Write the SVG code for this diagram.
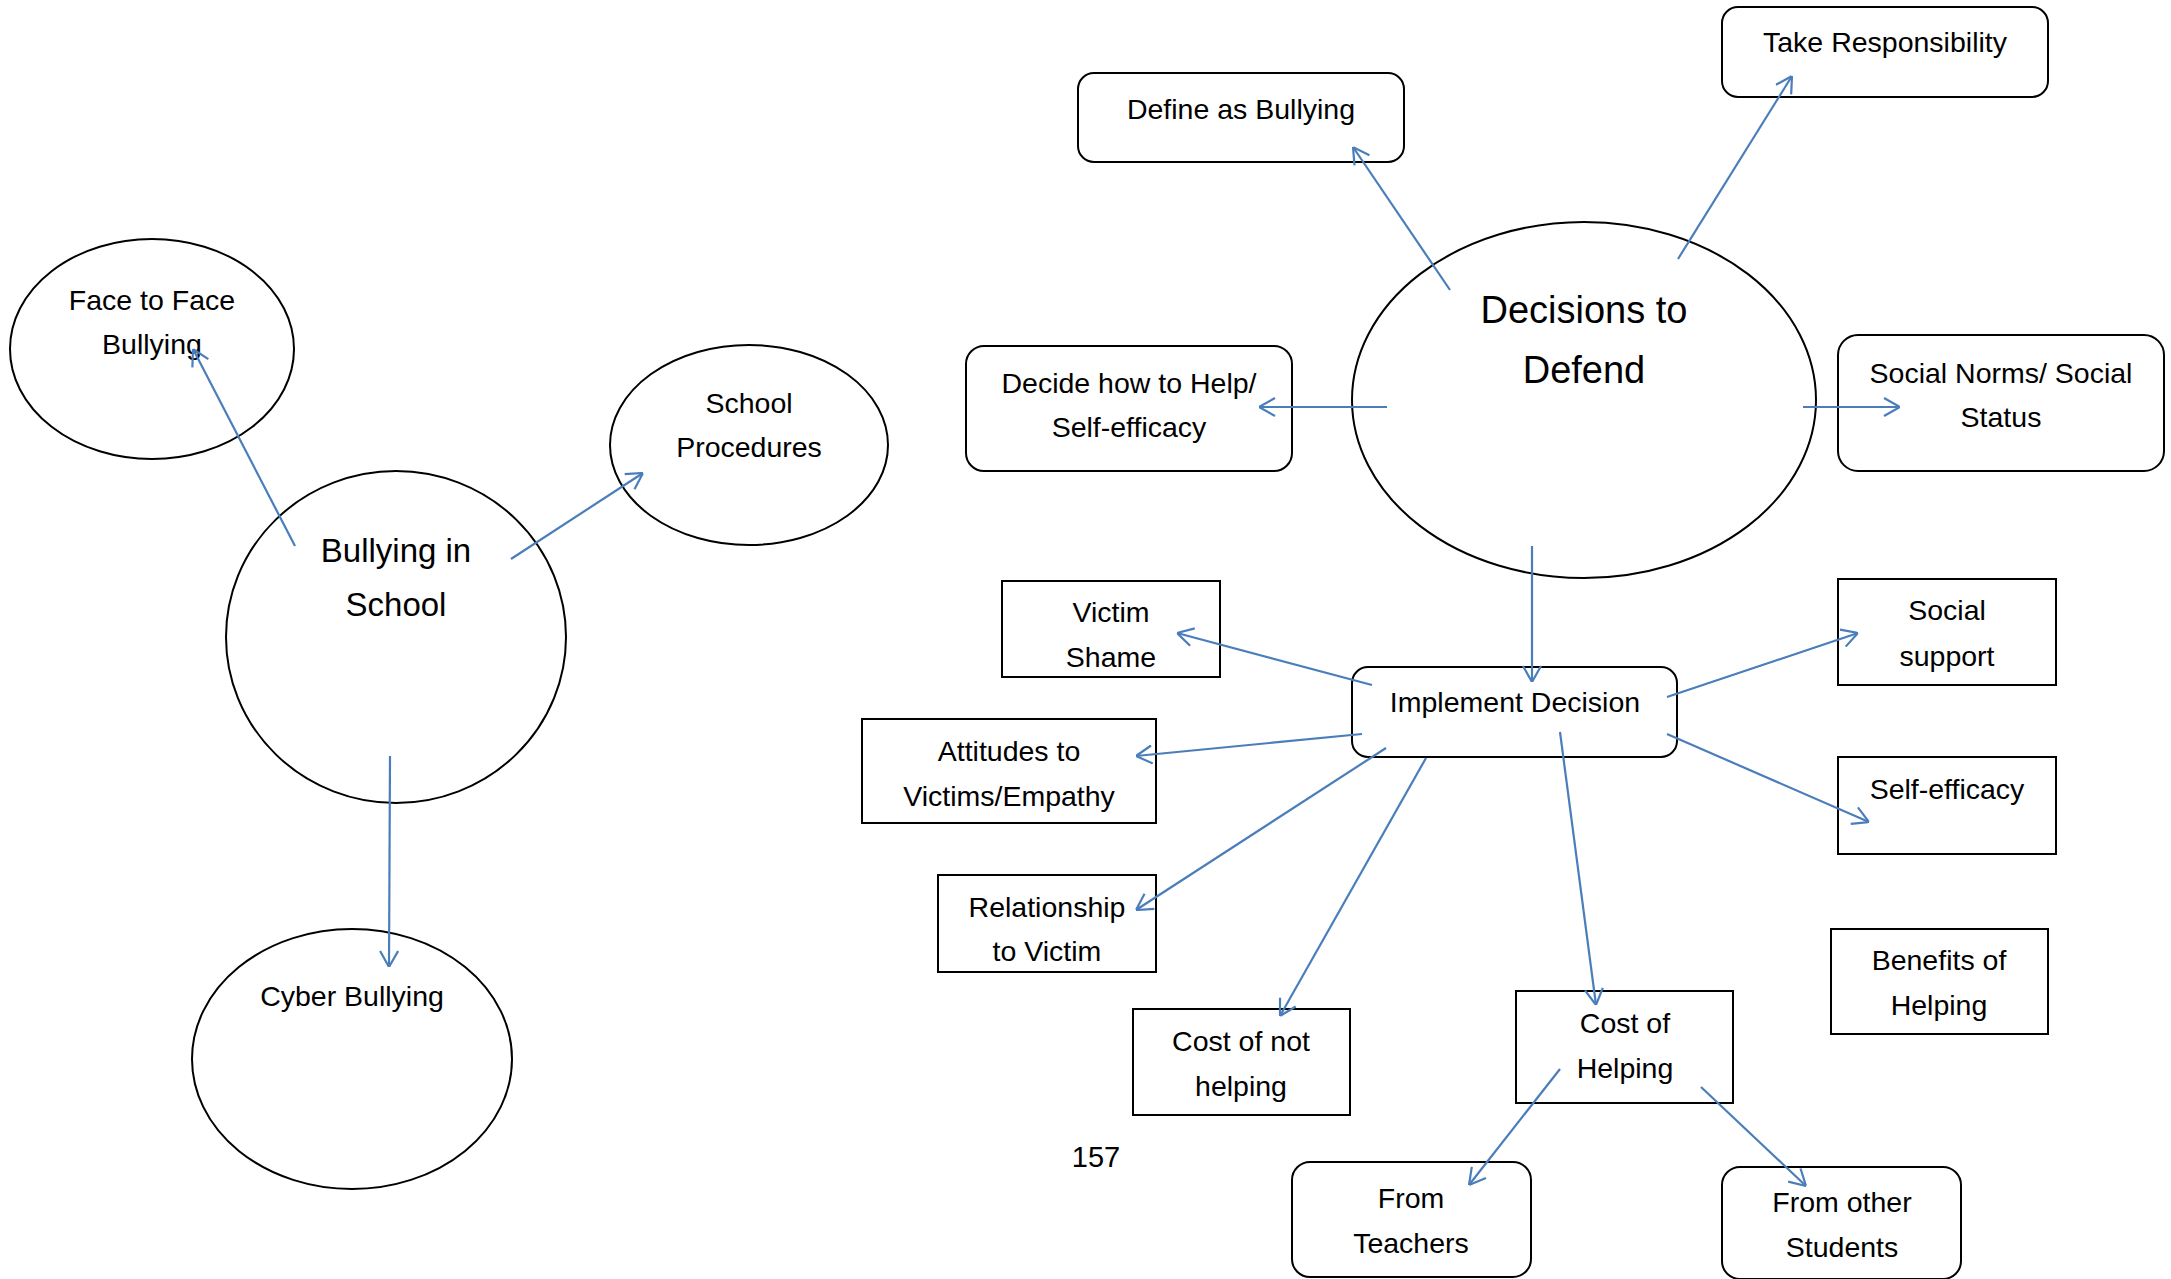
<svg xmlns="http://www.w3.org/2000/svg" width="2171" height="1279" viewBox="0 0 2171 1279">
  <style>
    .shape { fill: #ffffff; stroke: #000000; stroke-width: 2; }
    .label { font-family: "Liberation Sans", Arial, sans-serif; font-size: 28.5px; fill: #000000; text-anchor: middle; }
    .big { font-size: 33px; }
    .huge { font-size: 38px; }
    .link { fill: none; stroke: #4A7EBB; stroke-width: 2.2; marker-end: url(#arrow); }
  </style>
  <defs>
    <marker id="arrow" viewBox="0 0 20 20" refX="20" refY="10" markerWidth="20" markerHeight="20" markerUnits="userSpaceOnUse" orient="auto">
      <path d="M4,1 L20,10 L4,19" fill="none" stroke="#4A7EBB" stroke-width="2.2"/>
    </marker>
  </defs>
  <rect width="2171" height="1279" fill="#ffffff"/>

  <!-- left cluster -->
  <g id="face-to-face">
    <ellipse class="shape" cx="152" cy="349" rx="142" ry="110"/>
    <text class="label" x="152" y="310">Face to Face</text>
    <text class="label" x="152" y="354">Bullying</text>
  </g>
  <g id="school-procedures">
    <ellipse class="shape" cx="749" cy="445" rx="139" ry="100"/>
    <text class="label" x="749" y="413">School</text>
    <text class="label" x="749" y="457">Procedures</text>
  </g>
  <g id="bullying-in-school">
    <ellipse class="shape" cx="396" cy="637" rx="170" ry="166"/>
    <text class="label big" x="396" y="562">Bullying in</text>
    <text class="label big" x="396" y="616">School</text>
  </g>
  <g id="cyber-bullying">
    <ellipse class="shape" cx="352" cy="1059" rx="160" ry="130"/>
    <text class="label" x="352" y="1006">Cyber Bullying</text>
  </g>

  <!-- right cluster -->
  <g id="define-as-bullying">
    <rect class="shape" x="1078" y="73" width="326" height="89" rx="16"/>
    <text class="label" x="1241" y="119">Define as Bullying</text>
  </g>
  <g id="take-responsibility">
    <rect class="shape" x="1722" y="7" width="326" height="90" rx="16"/>
    <text class="label" x="1885" y="52">Take Responsibility</text>
  </g>
  <g id="decisions-to-defend">
    <ellipse class="shape" cx="1584" cy="400" rx="232" ry="178"/>
    <text class="label huge" x="1584" y="323">Decisions to</text>
    <text class="label huge" x="1584" y="383">Defend</text>
  </g>
  <g id="decide-how-to-help">
    <rect class="shape" x="966" y="346" width="326" height="125" rx="18"/>
    <text class="label" x="1129" y="393">Decide how to Help/</text>
    <text class="label" x="1129" y="437">Self-efficacy</text>
  </g>
  <g id="social-norms">
    <rect class="shape" x="1838" y="335" width="326" height="136" rx="20"/>
    <text class="label" x="2001" y="383">Social Norms/ Social</text>
    <text class="label" x="2001" y="427">Status</text>
  </g>
  <g id="victim-shame">
    <rect class="shape" x="1002" y="581" width="218" height="96"/>
    <text class="label" x="1111" y="622">Victim</text>
    <text class="label" x="1111" y="667">Shame</text>
  </g>
  <g id="implement-decision">
    <rect class="shape" x="1352" y="667" width="325" height="90" rx="16"/>
    <text class="label" x="1515" y="712">Implement Decision</text>
  </g>
  <g id="social-support">
    <rect class="shape" x="1838" y="579" width="218" height="106"/>
    <text class="label" x="1947" y="620">Social</text>
    <text class="label" x="1947" y="666">support</text>
  </g>
  <g id="attitudes-to-victims">
    <rect class="shape" x="862" y="719" width="294" height="104"/>
    <text class="label" x="1009" y="761">Attitudes to</text>
    <text class="label" x="1009" y="806">Victims/Empathy</text>
  </g>
  <g id="self-efficacy">
    <rect class="shape" x="1838" y="757" width="218" height="97"/>
    <text class="label" x="1947" y="799">Self-efficacy</text>
  </g>
  <g id="relationship-to-victim">
    <rect class="shape" x="938" y="875" width="218" height="97"/>
    <text class="label" x="1047" y="917">Relationship</text>
    <text class="label" x="1047" y="961">to Victim</text>
  </g>
  <g id="benefits-of-helping">
    <rect class="shape" x="1831" y="929" width="217" height="105"/>
    <text class="label" x="1939" y="970">Benefits of</text>
    <text class="label" x="1939" y="1015">Helping</text>
  </g>
  <g id="cost-of-not-helping">
    <rect class="shape" x="1133" y="1009" width="217" height="106"/>
    <text class="label" x="1241" y="1051">Cost of not</text>
    <text class="label" x="1241" y="1096">helping</text>
  </g>
  <g id="cost-of-helping">
    <rect class="shape" x="1516" y="991" width="217" height="112"/>
    <text class="label" x="1625" y="1033">Cost of</text>
    <text class="label" x="1625" y="1078">Helping</text>
  </g>
  <g id="from-teachers">
    <rect class="shape" x="1292" y="1162" width="239" height="115" rx="18"/>
    <text class="label" x="1411" y="1208">From</text>
    <text class="label" x="1411" y="1253">Teachers</text>
  </g>
  <g id="from-other-students">
    <rect class="shape" x="1722" y="1167" width="239" height="112" rx="18"/>
    <text class="label" x="1842" y="1212">From other</text>
    <text class="label" x="1842" y="1257">Students</text>
  </g>

  <text id="page-number" x="1096" y="1167" font-family="Liberation Sans, Arial, sans-serif" font-size="29" text-anchor="middle">157</text>

  <g id="connectors">
    <line class="link" x1="295" y1="546" x2="193" y2="349"/>
    <line class="link" x1="511" y1="559" x2="643" y2="473"/>
    <line class="link" x1="390" y1="756" x2="389" y2="967"/>
    <line class="link" x1="1450" y1="290" x2="1353" y2="147"/>
    <line class="link" x1="1678" y1="259" x2="1792" y2="76"/>
    <line class="link" x1="1387" y1="407" x2="1259" y2="407"/>
    <line class="link" x1="1803" y1="407" x2="1900" y2="407"/>
    <line class="link" x1="1532" y1="546" x2="1532" y2="682"/>
    <line class="link" x1="1372" y1="685" x2="1177" y2="633"/>
    <line class="link" x1="1362" y1="734" x2="1136" y2="756"/>
    <line class="link" x1="1386" y1="748" x2="1136" y2="910"/>
    <line class="link" x1="1426" y1="758" x2="1280" y2="1016"/>
    <line class="link" x1="1560" y1="732" x2="1596" y2="1005"/>
    <line class="link" x1="1667" y1="697" x2="1858" y2="633"/>
    <line class="link" x1="1667" y1="734" x2="1869" y2="822"/>
    <line class="link" x1="1560" y1="1069" x2="1469" y2="1185"/>
    <line class="link" x1="1701" y1="1087" x2="1806" y2="1186"/>
  </g>
</svg>
